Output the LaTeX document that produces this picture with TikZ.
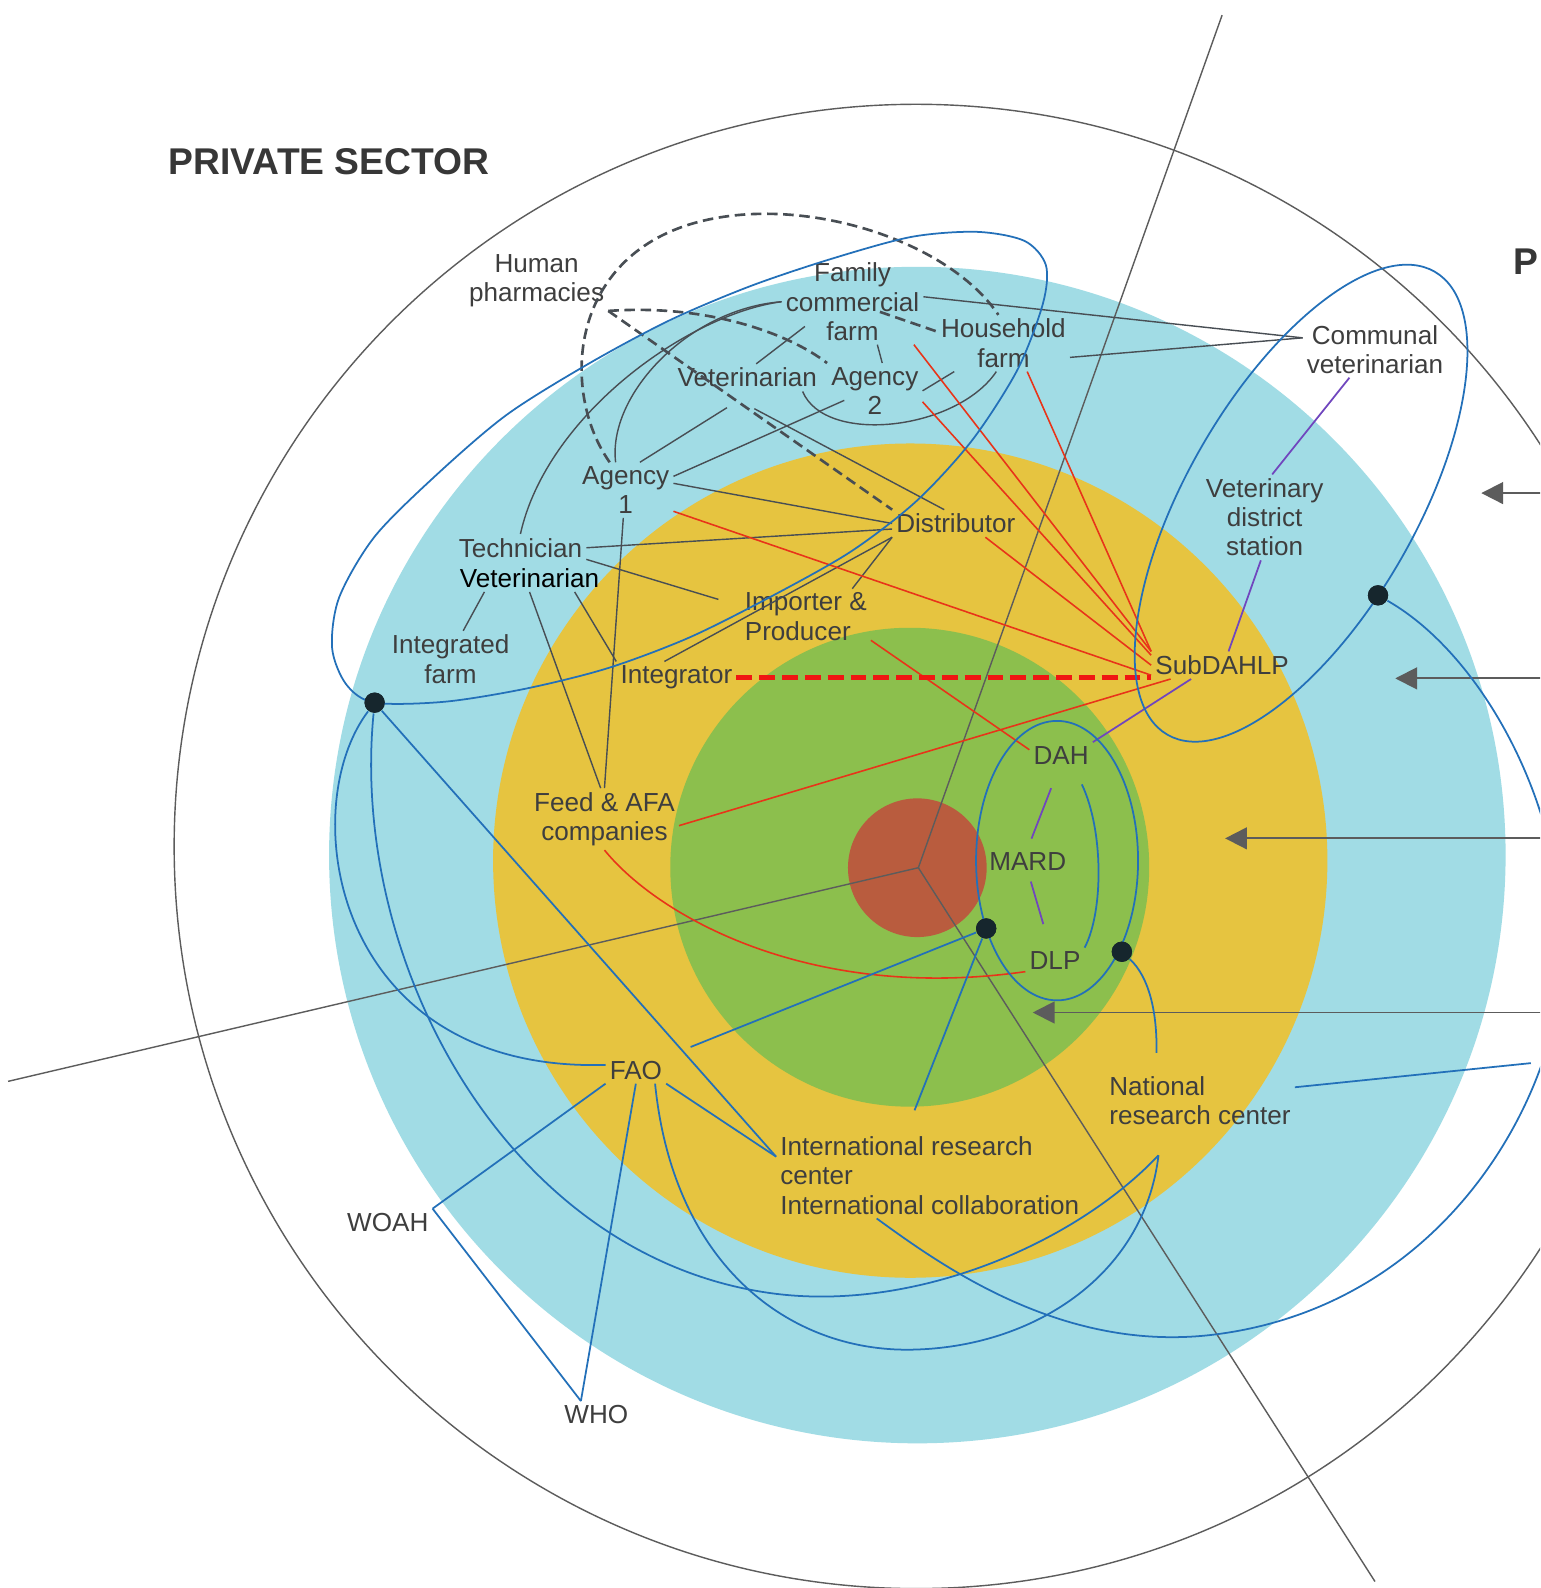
\documentclass[tikz,border=0pt]{standalone}
\usepackage{fontspec}
\setmainfont{Liberation Sans}
\usetikzlibrary{calc,arrows.meta}
\definecolor{ringblue}{RGB}{161,220,229}
\definecolor{ringyellow}{RGB}{230,196,64}
\definecolor{ringgreen}{RGB}{140,191,77}
\definecolor{corered}{RGB}{185,92,62}
\definecolor{linkgray}{RGB}{72,78,84}
\definecolor{axisgray}{RGB}{92,92,92}
\definecolor{linkblue}{RGB}{35,112,185}
\definecolor{linkred}{RGB}{232,52,25}
\definecolor{dashred}{RGB}{240,22,18}
\definecolor{linkviolet}{RGB}{112,70,190}
\definecolor{txtgray}{RGB}{62,62,62}
\definecolor{headgray}{RGB}{55,55,55}
\definecolor{dotdark}{RGB}{22,38,45}
\tikzstyle{Lab} = [inner sep=1pt, text=txtgray, align=center,
  font=\fontsize{7.43}{8.3}\selectfont]
\tikzstyle{Head} = [inner sep=0pt, anchor=west, text=headgray,
  font=\fontsize{10.6}{12}\selectfont\bfseries]
\tikzstyle{Link} = [draw=linkgray, line width=0.4pt]
\tikzstyle{RedLink} = [draw=linkred, line width=0.45pt]
\tikzstyle{RedDash} = [draw=dashred, line width=1.4pt, dash pattern=on 4.5pt off 2pt]
\tikzstyle{VioLink} = [draw=linkviolet, line width=0.5pt]
\tikzstyle{DashLink} = [draw=linkgray, line width=0.75pt, dash pattern=on 3pt off 1.6pt]
\tikzstyle{BlueLink} = [draw=linkblue, line width=0.5pt]
\tikzstyle{Dot} = [circle, fill=dotdark, inner sep=0pt, minimum size=2.03mm]
\tikzstyle{Axis} = [draw=axisgray, line width=0.4pt]
\tikzstyle{Lead} = [draw=axisgray, line width=0.55pt,
  -{Triangle[length=6.2pt,width=6.2pt]}]

\begin{document}
\begin{tikzpicture}[x=0.010125cm, y=-0.010125cm]
   \useasboundingbox (0,0) rectangle (1521,1568.4);
   \fill[white] (0,0) rectangle (1521,1568.4);
   \clip (0,0) rectangle (1521,1568.4);

   % rings
   \draw[axisgray, line width=0.4pt] (905,836) circle[radius=733];
   \fill[ringblue] (906,844.5) circle[radius=581];
   \fill[ringyellow] (899,850) circle[radius=412];
   \fill[ringgreen] (898.5,856.5) circle[radius=236.5];
   \fill[corered] (906,857) circle[radius=68.5];

   \coordinate (ctr) at (907,857);
   \coordinate (rayN) at (1207,15);
   \coordinate (rayW) at (8,1068);
   \coordinate (rayS) at (1358,1562);
   \draw [Axis] (ctr) to (rayN);
   \draw [Axis] (ctr) to (rayW);
   \draw [Axis] (ctr) to (rayS);

   \coordinate (outA) at (1530,487);  \coordinate (inA) at (1463,487);
   \coordinate (outB) at (1530,670);  \coordinate (inB) at (1378,670);
   \coordinate (outC) at (1530,828);  \coordinate (inC) at (1210,828);
   \coordinate (outD) at (1530,1000); \coordinate (inD) at (1020,1000);
   \draw [Lead] (outA) to (inA);
   \draw [Lead] (outB) to (inB);
   \draw [Lead] (outC) to (inC);
   \draw [Lead] (outD) to (inD);

   \node [Head] (priv) at (166,160) {PRIVATE SECTOR};
   \node [Head] (pub) at (1494,258) {P};

   \node [Lab] (hp) at (530,277) {Human\\pharmacies};
   \node [Lab] (fcf) at (842,298) {Family\\commercial\\farm};
   \node [Lab] (hhf) at (991,339) {Household\\farm};
   \node [Lab] (vet) at (738,373) {Veterinarian};
   \node [Lab] (ag2) at (864,386) {Agency\\2};
   \node [Lab] (cv) at (1358,345) {Communal\\veterinarian};
   \node [Lab] (ag1) at (618,484) {Agency\\1};
   \node [Lab] (vds) at (1249,511) {Veterinary\\district\\station};
   \node [Lab] (dist) at (944,517) {Distributor};
   \node [Lab] (tech) at (514,541) {Technician};
   \node [Lab, text=black] (vet2) at (523,571) {Veterinarian};
   \node [Lab, align=left, anchor=west] (imp) at (731.5,609) {Importer \&\\Producer};
   \node [Lab] (intf) at (445,651) {Integrated\\farm};
   \node [Lab] (intg) at (668,669) {Integrator};
   \node [Lab] (sub) at (1207,657) {SubDAHLP};
   \node [Lab] (dah) at (1048,746) {DAH};
   \node [Lab] (feed) at (597,809) {Feed \& AFA\\companies};
   \node [Lab] (mard) at (1015,851) {MARD};
   \node [Lab] (dlp) at (1042,949) {DLP};
   \node [Lab] (fao) at (628,1057) {FAO};
   \node [Lab, align=left, anchor=west] (nrc) at (1091.5,1087) {National\\research center};
   \node [Lab, align=left, anchor=west] (irc) at (766.5,1161) {International research\\center\\International collaboration};
   \node [Lab] (woah) at (383,1207) {WOAH};
   \node [Lab] (who) at (589,1397) {WHO};

   \node [Dot] (dA) at (370,694) {};
   \node [Dot] (dB) at (1361,588) {};
   \node [Dot] (dC) at (974,917) {};
   \node [Dot] (dD) at (1108,940) {};
   \coordinate (nrcf) at ($(nrc.south)+(-41,26)$);
   \coordinate (rimC) at (1512,1050);

   % private chain
   \draw [Link] (fcf.4) to (cv.171);
   \draw [Link] (hhf.-12) to (cv.171);
   \draw [Link] (fcf.-60) to (ag2.75);
   \draw [Link] ($(fcf.south)+(-47,-18)$) to (vet.57);
   \draw [Link] (hhf.210) to (ag2.east);
   \draw [Link] (vet.-14) .. controls (815,440) and (945,425) .. (hhf.-104);
   \draw [Link] (ag1.63) to ($(vet.south)+(-20,16)$);
   \draw [Link] (ag1.16) to ($(ag2.south west)+(17,-18)$);
   \draw [Link] (ag1.8) to (dist.west);
   \draw [Link] ($(vet.south)+(7,17)$) to (dist.130);
   \draw [Link] (tech.east) to (dist.185);
   \draw [Link] (tech.-10) to ($(imp.west)+(-22,-17)$);
   \draw [Link] (intg.127) to (dist.south west);
   \draw [Link] (dist.south west) to (imp.31);
   \draw [Link] (vet2.-17) to (intg.north west);
   \draw [Link] (vet2.south) to (feed.97);
   \draw [Link] (ag1.-95) to (feed.north);
   \draw [Link] (intf.66) to (vet2.-163);
   \draw [Link] (fcf.west) .. controls (680,310) and (540,410) .. (tech.north);
   \draw [Link] (fcf.west) .. controls (680,305) and (600,390) .. (ag1.110);

   \draw [DashLink] (ag1.120) .. controls (555,390) and (560,260) .. (680,222)
      .. controls (785,189) and (935,235) .. (hhf.100);
   \draw [DashLink] (hp.south east) to (dist.north west);
   \draw [DashLink] (hp.south east) .. controls (700,300) and (780,330) .. (ag2.north west);
   \draw [DashLink] ($(fcf.east)+(-43,10)$) to (hhf.170);

   % reporting lines
   \draw [RedLink] (ag1.-24) to (sub.188);
   \draw [RedLink] (fcf.-35) to (sub.north west);
   \draw [RedLink] (ag2.-13) to (sub.172);
   \draw [RedLink] (hhf.-50) to (sub.north west);
   \draw [RedLink] (dist.-25) to (sub.west);
   \draw [RedLink] (imp.-20) to (dah.170);
   \draw [RedLink] (sub.-165) to (feed.-5);
   \draw [RedLink] (feed.south) .. controls (650,905) and (800,990) .. (dlp.200);
   \draw [RedDash] (intg.east) to (intg.east -| sub.west);

   \draw [VioLink] (cv.-132) to (vds.80);
   \draw [VioLink] (vds.-95) to (sub.65);
   \draw [VioLink] (sub.-156) to (dah.north east);
   \draw [VioLink, shorten <=6pt, shorten >=3pt] (dah.-100) to (mard.north);
   \draw [VioLink, shorten <=2pt, shorten >=7pt] (mard.-85) to (dlp.110);

   % collaboration loops
   \draw [BlueLink] plot[smooth cycle] coordinates {(370,694) (440,693) (520,680)
      (600,660) (680,630) (760,590) (840,545) (905,495) (960,435) (1005,365)
      (1030,300) (1033,262) (1012,238) (965,229) (900,234) (820,256) (740,283)
      (660,317) (580,360) (500,410) (430,470) (370,530) (335,590) (328,640)
      (342,676)};
   \draw [BlueLink, rotate around={60:(1285,497)}] (1285,497) ellipse [x radius=264, y radius=113];
   \draw [BlueLink] (1044,850) ellipse [x radius=80, y radius=138];

   \draw [BlueLink] (dA) .. controls (290,800) and (330,1060) .. (fao.170);
   \draw [BlueLink] (dA) .. controls (345,950) and (500,1240) .. (760,1277)
      .. controls (900,1297) and (1060,1230) .. (nrcf);
   \draw [BlueLink] (dA) to (irc.173);
   \draw [BlueLink] (fao.south east) to (irc.173);
   \draw [BlueLink] (fao.south west) to (woah.north east);
   \draw [BlueLink] (woah.north east) to (who.139);
   \draw [BlueLink] (fao.south) to (who.139);
   \draw [BlueLink] (fao.-35) .. controls (665,1250) and (780,1335) .. (900,1333)
      .. controls (1020,1331) and (1130,1260) .. (nrcf);
   \draw [BlueLink, shorten >=7.5pt] (dC) to (fao.north east);
   \draw [BlueLink] (dC) to ($(irc.north)+(-15,-22)$);
   \draw [BlueLink] (dD) .. controls (1135,965) and (1143,1000) .. ($(nrc.north)+(-43,-19)$);
   \draw [BlueLink, shorten <=5pt] (dah.-45) .. controls (1090,820) and (1090,900) .. (dlp.north east);
   \draw [BlueLink] (dB) .. controls (1470,650) and (1560,820) .. (1540,980)
      .. controls (1525,1100) and (1420,1290) .. (1200,1318)
      .. controls (1050,1337) and (930,1250) .. (irc.-141);
   \draw [BlueLink] (nrc.8) to (rimC);

   \node [Dot] at (dA) {};
   \node [Dot] at (dB) {};
   \node [Dot] at (dC) {};
   \node [Dot] at (dD) {};
\end{tikzpicture}
\end{document}
